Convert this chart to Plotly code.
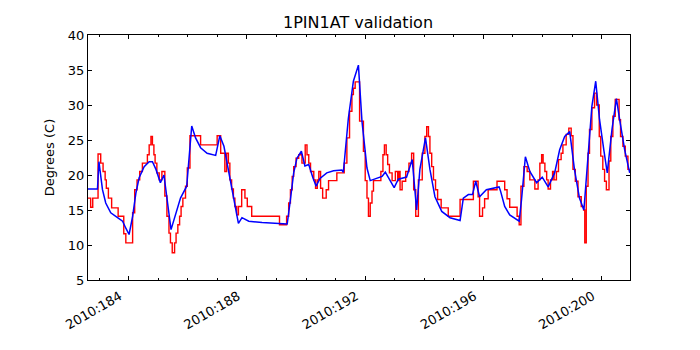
import plotly.graph_objects as go

# day of year 2010 (fractional) and temperature
model_day = [182.61, 182.94, 182.99, 183.11, 183.22, 183.39, 183.62, 183.79, 183.90, 184.01,
             184.13, 184.24, 184.35, 184.52, 184.69, 184.80, 184.92, 185.07, 185.19, 185.43,
             185.75, 185.96, 186.13, 186.26, 186.43, 186.65, 186.94, 187.08, 187.22, 187.39,
             187.56, 187.71, 187.83, 188.06, 188.51, 189.07, 189.36, 189.47, 189.58, 189.69,
             189.84, 189.96, 190.09, 190.23, 190.34, 190.47, 190.70, 190.93, 191.21, 191.26,
             191.43, 191.60, 191.77, 191.89, 192.06, 192.17, 192.34, 192.57, 192.68, 192.79,
             192.98, 193.12, 193.40, 193.59, 193.74, 193.85, 194.04, 194.19, 194.36, 194.59,
             194.87, 195.21, 195.32, 195.49, 195.63, 195.74, 195.87, 196.10, 196.33, 196.53,
             196.58, 196.72, 196.89, 197.21, 197.29, 197.42, 197.57, 197.80, 197.99, 198.19,
             198.41, 198.58, 198.75, 198.92, 199.08, 199.25, 199.40, 199.54, 199.67, 199.80,
             199.93, 200.08, 200.19, 200.35, 200.50, 200.61, 200.78, 200.95]
model_temp = [18.0, 18.0, 21.9, 17.9, 16.0, 14.6, 13.9, 13.4, 12.4, 11.5,
              14.1, 17.4, 19.6, 21.2, 21.9, 21.9, 20.8, 18.9, 20.0, 12.2,
              16.7, 18.4, 27.0, 25.3, 23.9, 23.1, 22.8, 25.6, 24.1, 20.3,
              16.5, 13.1, 13.9, 13.4, 13.2, 13.1, 13.0, 16.5, 20.3, 22.4,
              23.4, 21.3, 21.5, 19.6, 18.4, 19.5, 20.3, 20.6, 20.7, 20.4,
              28.1, 33.4, 35.7, 27.7, 21.0, 19.2, 19.5, 19.8, 20.4, 19.6,
              18.2, 19.4, 19.7, 22.2, 15.0, 20.8, 25.3, 20.8, 16.9, 14.8,
              13.9, 13.5, 16.7, 17.2, 17.2, 19.1, 16.9, 17.9, 18.1, 18.3,
              17.7, 15.5, 14.3, 13.4, 16.5, 22.6, 20.5, 18.9, 19.7, 18.3,
              20.3, 23.6, 25.5, 26.2, 20.8, 16.7, 15.0, 22.7, 29.8, 33.4,
              27.9, 23.4, 20.3, 26.5, 30.9, 27.9, 23.6, 20.3]

meas_day = [182.61, 182.71, 182.78, 182.96, 183.05, 183.13, 183.20, 183.24, 183.31, 183.42,
            183.64, 183.83, 183.90, 184.13, 184.20, 184.28, 184.37, 184.46, 184.63, 184.69,
            184.75, 184.80, 184.85, 184.89, 184.95, 185.03, 185.12, 185.22, 185.29, 185.36,
            185.41, 185.47, 185.55, 185.60, 185.66, 185.72, 185.77, 185.83, 185.92, 185.98,
            186.07, 186.43, 186.99, 187.11, 187.25, 187.31, 187.37, 187.42, 187.48, 187.54,
            187.59, 187.65, 187.71, 187.82, 187.93, 188.01, 188.16, 189.10, 189.34, 189.41,
            189.47, 189.53, 189.58, 189.66, 189.75, 189.86, 189.97, 190.03, 190.09, 190.15,
            190.26, 190.32, 190.38, 190.43, 190.49, 190.56, 190.68, 190.76, 191.04, 191.29,
            191.38, 191.47, 191.55, 191.60, 191.66, 191.81, 191.94, 192.00, 192.06, 192.11,
            192.17, 192.23, 192.28, 192.53, 192.60, 192.65, 192.71, 192.76, 192.82, 192.91,
            193.02, 193.10, 193.14, 193.18, 193.25, 193.37, 193.48, 193.57, 193.64, 193.71,
            193.80, 193.93, 194.02, 194.08, 194.14, 194.19, 194.25, 194.31, 194.38, 194.45,
            194.57, 194.81, 195.21, 195.66, 195.82, 195.87, 195.97, 196.04, 196.16, 196.46,
            196.72, 196.80, 196.89, 197.14, 197.21, 197.27, 197.37, 197.48, 197.57, 197.74,
            197.85, 197.91, 197.97, 198.02, 198.08, 198.14, 198.19, 198.27, 198.34, 198.39,
            198.47, 198.54, 198.63, 198.69, 198.80, 198.89, 198.97, 199.03, 199.11, 199.20,
            199.31, 199.39, 199.43, 199.48, 199.54, 199.59, 199.67, 199.76, 199.83, 199.92,
            199.97, 200.04, 200.10, 200.16, 200.25, 200.31, 200.38, 200.46, 200.59, 200.64,
            200.72, 200.80, 200.89, 200.96]
meas_temp = [16.7, 15.4, 16.7, 23.0, 21.7, 20.5, 19.3, 18.1, 16.7, 15.3,
             14.1, 11.6, 10.3, 14.6, 17.9, 19.3, 20.5, 21.7, 22.9, 24.3,
             25.5, 24.3, 22.9, 21.7, 20.3, 19.3, 20.5, 17.0, 14.1, 11.7,
             10.3, 8.9, 10.3, 11.7, 12.9, 14.1, 15.5, 16.7, 18.4, 21.0,
             25.6, 24.3, 25.6, 23.1, 20.5, 23.1, 21.7, 19.3, 18.0, 16.7,
             15.5, 14.3, 15.5, 17.9, 16.7, 15.5, 14.1, 12.9, 14.1, 16.0,
             17.9, 19.8, 21.2, 22.4, 22.9, 21.7, 24.3, 22.9, 21.7, 20.5,
             19.3, 18.1, 19.3, 20.5, 18.1, 16.7, 17.9, 19.2, 20.3, 21.7,
             25.3, 29.1, 31.5, 32.4, 33.3, 27.7, 23.4, 19.2, 16.7, 14.1,
             16.0, 17.7, 19.2, 20.5, 22.9, 24.3, 22.9, 21.5, 20.3, 19.2,
             20.5, 19.2, 20.5, 17.9, 19.1, 20.5, 21.7, 23.1, 17.9, 14.1,
             19.3, 23.1, 25.5, 26.9, 25.5, 23.1, 21.2, 19.3, 17.9, 16.5,
             15.3, 14.1, 16.5, 19.1, 16.9, 14.1, 15.3, 16.6, 17.9, 19.1,
             17.9, 16.6, 15.4, 14.1, 12.9, 18.4, 21.2, 20.5, 19.3, 18.0,
             19.3, 21.7, 22.9, 21.7, 20.5, 19.3, 18.0, 19.3, 20.5, 19.3,
             20.5, 22.2, 23.1, 24.3, 25.8, 26.7, 25.6, 20.8, 19.1, 16.9,
             15.5, 15.0, 10.3, 18.4, 23.1, 26.5, 29.6, 31.7, 30.0, 25.5,
             22.7, 20.8, 19.1, 17.9, 22.0, 25.5, 28.4, 30.8, 27.9, 25.5,
             24.1, 22.7, 20.8, 20.3]

tick_days = [184, 188, 192, 196, 200]
tick_labels = ['2010:184', '2010:188', '2010:192', '2010:196', '2010:200']

fig = go.Figure()

fig.add_trace(go.Scatter(
    x=meas_day, y=meas_temp, mode='lines', line_shape='hv',
    line=dict(color='#ff0000', width=1.4), name='measured'
))
fig.add_trace(go.Scatter(
    x=model_day, y=model_temp, mode='lines',
    line=dict(color='#0000ff', width=1.5), name='model'
))

axis_common = dict(
    showline=True, linecolor='black', linewidth=1, mirror='allticks',
    ticks='inside', ticklen=4, tickcolor='black', showgrid=False, zeroline=False,
    tickfont=dict(family='DejaVu Sans', size=13, color='black'),
)

# page puts the figure 8px in from the corner, margins account for that
fig.update_layout(
    width=700, height=350,
    margin=dict(l=80, r=78, t=27, b=78),
    paper_bgcolor='white', plot_bgcolor='white',
    showlegend=False,
    font=dict(family='DejaVu Sans', color='black'),
    title=dict(text='1PIN1AT validation', x=0.5, xanchor='center', y=0.96,
               yanchor='middle', font=dict(size=16, color='black')),
    xaxis=dict(
        axis_common, range=[182.62, 200.96],
        tickvals=tick_days, ticktext=tick_labels, tickangle=-30,
        ticklabelshift=-9, ticklabelstandoff=3,
        minor=dict(dtick=1, tick0=184, ticks='inside', ticklen=2, tickcolor='black'),
    ),
    yaxis=dict(
        axis_common, range=[5, 40], dtick=5,
        title=dict(text='Degrees (C)', font=dict(size=13, color='black'), standoff=10),
    ),
)

fig.write_html('out.html')
